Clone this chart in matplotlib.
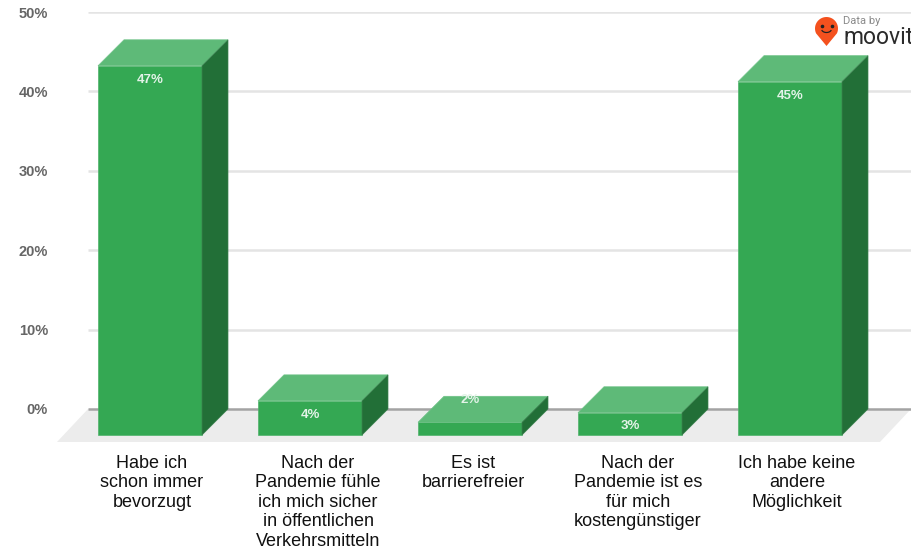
#coding=utf-8
import matplotlib
matplotlib.use('Agg')
import matplotlib.pyplot as plt
from matplotlib.patches import Polygon, PathPatch
from matplotlib.path import Path
from matplotlib.transforms import Bbox
import numpy as np

plt.rcParams['font.family'] = ['Liberation Sans', 'DejaVu Sans']

categories = ['Habe ich\nschon immer\nbevorzugt',
              'Nach der\nPandemie fühle\nich mich sicher\nin öffentlichen\nVerkehrsmitteln',
              'Es ist\nbarrierefreier',
              'Nach der\nPandemie ist es\nfür mich\nkostengünstiger',
              'Ich habe keine\nandere\nMöglichkeit']
# heights, labels as printed on the bars
values = [46.5, 4.3, 1.6, 2.8, 44.5]
labels = ['47%', '4%', '2%', '3%', '45%']
yticks = [0, 10, 20, 30, 40, 50]

W, H = 921, 550
fig = plt.figure(figsize=(W/100, H/100), dpi=100)
top_px, bottom_px = 12, 442
ax = fig.add_axes([88/W, 1-bottom_px/H, (911-88)/W, (bottom_px-top_px)/H])

px_x = 160.0     # pixels per category
px_y = (409-12)/50.0   # pixels per percent
ax.set_xlim((88-150)/px_x, (911-150)/px_x)
ax.set_ylim(-(bottom_px-409)/px_y, 50)

bar_w = 104/px_x
dx = 26/px_x
dy = 26/px_y
base = -dy

for s in ax.spines.values():
    s.set_visible(False)

# floor
x0, x1 = ax.get_xlim()
y0 = ax.get_ylim()[0]
ax.add_patch(Polygon([(x0-31/px_x, y0), (x0, 0), (x1, 0), (x1-31/px_x, y0)],
                     closed=True, fc='#ececec', ec='none', clip_on=False, zorder=1))
# grid
ax.hlines(yticks[1:], x0, x1, color='#e4e4e4', lw=1.8, zorder=1)
ax.hlines(0, x0, x1, color='#a3a3a3', lw=1.8, zorder=2)

xpos = np.arange(len(values))
# the 2% label sits up on the top face of its bar
label_off = [14, 14, -22, 13, 14]
for x, v, lab, off in zip(xpos, values, labels, label_off):
    l, r = x-bar_w/2, x+bar_w/2
    top = base+v
    ax.add_patch(Polygon([(l, base), (r, base), (r, top), (l, top)], fc='#34a853', ec='#4fb36b', lw=0.5, zorder=3))
    ax.add_patch(Polygon([(l, top), (r, top), (r+dx, top+dy), (l+dx, top+dy)], fc='#5eba78', ec='#6fc287', lw=0.5, zorder=3))
    ax.add_patch(Polygon([(r, base), (r+dx, base+dy), (r+dx, top+dy), (r, top)], fc='#226f37', ec='#3c8150', lw=0.5, zorder=3))
    ax.text(x, top-off/px_y, lab, color='#e3f3e8', fontsize=9.5, fontweight='bold',
            ha='center', va='center', zorder=4)

ax.set_yticks(yticks)
ax.set_yticklabels(['%d%%' % t for t in yticks], color='#666666', fontsize=10.5, fontweight='bold')
ax.tick_params(axis='y', length=0, pad=40/1.39)
ax.set_xticks(xpos + np.array([2, 8, 3, 8, 7])/px_x)
ax.set_xticklabels(categories, fontsize=13, color='#111111', linespacing=1.2)
ax.tick_params(axis='x', length=0, pad=9)

# logo, in pixel coordinates
lg = fig.add_axes([0, 0, 1, 1], facecolor='none')
lg.set_xlim(0, W)
lg.set_ylim(H, 0)
lg.axis('off')
cx, cy, r = 826.5, 28.5, 11.5
t = np.linspace(np.radians(-25), np.radians(205), 40)
pin = [(cx+r*np.cos(a), cy-r*np.sin(a)) for a in t]
verts = pin + [(cx, 46)] + [pin[0]]
codes = [Path.MOVETO] + [Path.LINETO]*(len(pin)) + [Path.CLOSEPOLY]
lg.add_patch(PathPatch(Path(verts, codes), fc='#f4511e', ec='none'))
lg.plot([cx-4.5, cx+5], [cy-3, cy-3], ls='none', marker='o', ms=1.6, color='#222222')
s = np.linspace(np.pi*1.15, np.pi*1.85, 12)
lg.plot(cx+5*np.cos(s), cy+0.5-3.5*np.sin(s), color='#222222', lw=0.9)
lg.text(843, 21, 'Data by', fontsize=8, color='#8a8a8a', family='Roboto', va='center', ha='left')
mv = lg.text(843, 38, 'moovit', fontsize=16.5, color='#2a2a2a', family='Roboto', va='center', ha='left')
mv.set_clip_box(Bbox([[0, 0], [911, H]]))
mv.set_clip_on(True)

fig.savefig('out.png', dpi=100)
